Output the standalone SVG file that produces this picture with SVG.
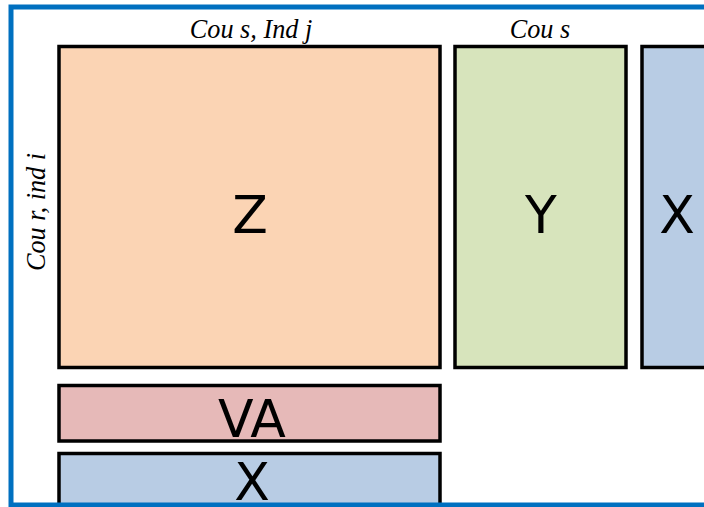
<svg xmlns="http://www.w3.org/2000/svg" width="704" height="507" viewBox="0 0 704 507">
<style>
.box{stroke:#000;stroke-width:3.5}
.lbl{font-family:"DejaVu Sans",sans-serif;font-size:52px;fill:#000;text-anchor:middle}
.ax{font-family:"Liberation Serif",serif;font-style:italic;font-size:25px;fill:#000;text-anchor:middle}
</style>
<rect x="0" y="0" width="704" height="507" fill="#fff"/>
<g id="label-top-z"><text class="ax" transform="translate(251,38) scale(1.05,1.12)">Cou s, Ind j</text></g>
<g id="label-top-y"><text class="ax" transform="translate(540,38) scale(1.05,1.12)">Cou s</text></g>
<g id="label-left"><text class="ax" transform="translate(45,212) rotate(-90) scale(1.05,1.12)">Cou r, ind i</text></g>
<g id="Z"><rect class="box" x="59" y="46.5" width="381" height="321" fill="#FBD4B4"/><text class="lbl" x="250" y="233">Z</text></g>
<g id="Y"><rect class="box" x="455" y="46.5" width="171" height="321" fill="#D7E4BC"/><text class="lbl" x="541" y="233">Y</text></g>
<g id="X-right"><rect class="box" x="642" y="46.5" width="100" height="321" fill="#B8CCE4"/><text class="lbl" x="677" y="233">X</text></g>
<g id="VA"><rect class="box" x="59" y="385.5" width="381" height="55.5" fill="#E6B9B8"/><text class="lbl" x="252" y="437">VA</text></g>
<g id="X-bottom"><rect class="box" x="59" y="453.5" width="381" height="52" fill="#B8CCE4"/><text class="lbl" x="252" y="500">X</text></g>
<g id="connectors"></g>
<rect x="11" y="7" width="720" height="498" fill="none" stroke="#0070C0" stroke-width="5"/>
</svg>
